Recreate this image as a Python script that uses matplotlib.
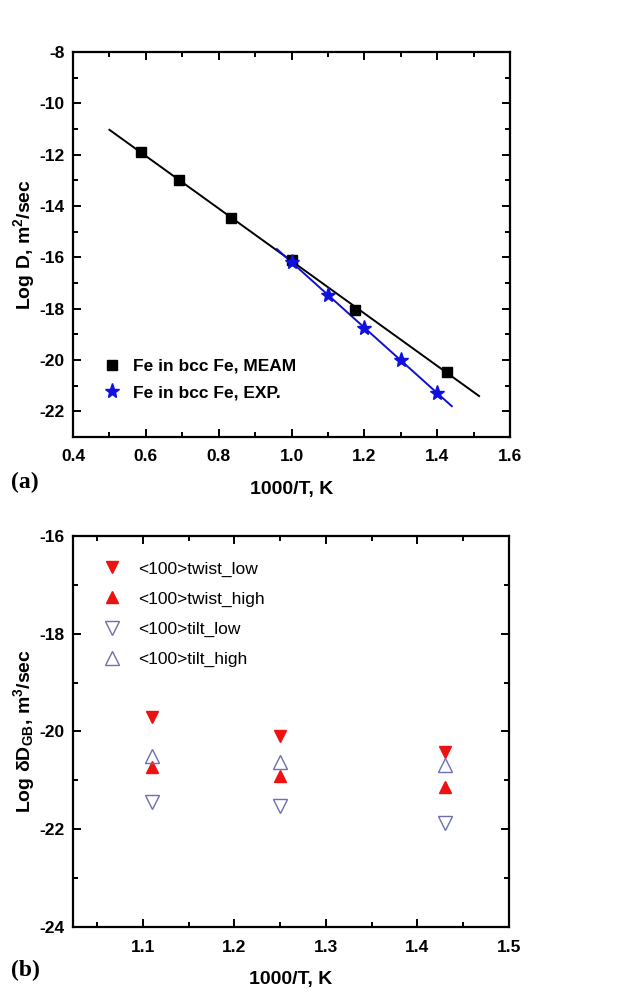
import numpy as np
import matplotlib
matplotlib.use("Agg")
import matplotlib.pyplot as plt
from matplotlib.ticker import MultipleLocator

plt.rcParams['font.family'] = ['Liberation Sans', 'DejaVu Sans']
plt.rcParams['axes.unicode_minus'] = False
plt.rcParams['mathtext.fontset'] = 'custom'
plt.rcParams['mathtext.rm'] = 'Liberation Sans:bold'
plt.rcParams['mathtext.bf'] = 'Liberation Sans:bold'
plt.rcParams['mathtext.default'] = 'bf'

# === Panel (a): lattice self-diffusion ===
meam_x = [0.587, 0.690, 0.833, 1.000, 1.175, 1.428]
meam_y = [-11.90, -12.97, -14.45, -16.10, -18.05, -20.45]
exp_x = [1.0, 1.1, 1.2, 1.3, 1.4]
exp_y = [-16.20, -17.45, -18.75, -20.00, -21.30]

# === Panel (b): grain boundary diffusion ===
gb_x = [1.11, 1.25, 1.43]
twist_low = [-19.70, -20.09, -20.42]
twist_high = [-20.73, -20.91, -21.14]
tilt_low = [-21.45, -21.52, -21.88]
tilt_high = [-20.51, -20.62, -20.68]

TILT_COLOR = '#6f6fb0'

fig = plt.figure(figsize=(6.31, 9.94), dpi=100)
ax1 = fig.add_axes([0.1157, 0.5604, 0.6926, 0.3873])
ax2 = fig.add_axes([0.1157, 0.0674, 0.6910, 0.3934])


def style_axes(ax):
    for sp in ax.spines.values():
        sp.set_linewidth(1.6)
    ax.tick_params(which='both', direction='in', top=True, right=True,
                   labelsize=12.5, width=1.4)
    ax.tick_params(axis='x', pad=9)
    ax.tick_params(axis='y', pad=6)
    ax.tick_params(which='major', length=6)
    ax.tick_params(which='minor', length=3.5)
    for lab in ax.get_xticklabels() + ax.get_yticklabels():
        lab.set_fontweight('bold')


# --- (a) ---
fit_m = np.polyfit(meam_x, meam_y, 1)
line_m = np.array([0.50, 1.515])
ax1.plot(line_m, np.polyval(fit_m, line_m), color='black', lw=1.4)
fit_e = np.polyfit(exp_x, exp_y, 1)
line_e = np.array([0.96, 1.44])
ax1.plot(line_e, np.polyval(fit_e, line_e), color='#1010d0', lw=1.4)
ax1.plot(meam_x, meam_y, 's', color='black', ms=7.5, label='Fe in bcc Fe, MEAM')
ax1.plot(exp_x, exp_y, '*', color='#1010e0', ms=11, label='Fe in bcc Fe, EXP.')

ax1.set_xlim(0.4, 1.6)
ax1.set_ylim(-23, -8)
ax1.xaxis.set_minor_locator(MultipleLocator(0.1))
ax1.yaxis.set_major_locator(MultipleLocator(2))
ax1.yaxis.set_minor_locator(MultipleLocator(1))
xt = np.arange(0.4, 1.61, 0.2)
ax1.set_xticks(xt)
ax1.set_xticklabels([f'{v:.1f}' for v in xt])
style_axes(ax1)
ax1.set_xlabel('1000/T, K', fontsize=14, fontweight='bold', labelpad=12)
ax1.set_ylabel(r'Log D, m$^2$/sec', fontsize=14, fontweight='bold', labelpad=2)
ax1.legend(loc='lower left', bbox_to_anchor=(0.03, 0.055), frameon=False,
           prop={'size': 12.5, 'weight': 'bold'}, handletextpad=0.6,
           labelspacing=0.65, handlelength=1.2)

# --- (b) ---
ax2.plot(gb_x, twist_low, 'v', color='#ee1111', ms=9, label='<100>twist_low')
ax2.plot(gb_x, twist_high, '^', color='#ee1111', ms=9, label='<100>twist_high')
ax2.plot(gb_x, tilt_low, 'v', mfc='none', mec=TILT_COLOR, mew=1.0, ms=10,
         label='<100>tilt_low')
ax2.plot(gb_x, tilt_high, '^', mfc='none', mec=TILT_COLOR, mew=1.0, ms=10,
         label='<100>tilt_high')

ax2.set_xlim(1.0237, 1.5)
ax2.set_ylim(-24, -16)
ax2.xaxis.set_major_locator(MultipleLocator(0.1))
ax2.xaxis.set_minor_locator(MultipleLocator(0.05))
ax2.yaxis.set_major_locator(MultipleLocator(2))
ax2.yaxis.set_minor_locator(MultipleLocator(1))
style_axes(ax2)
ax2.set_xlabel('1000/T, K', fontsize=14, fontweight='bold', labelpad=12)
ax2.set_ylabel(r'Log $\delta$D$_{GB}$, m$^3$/sec', fontsize=14,
               fontweight='bold', labelpad=2)
ax2.legend(loc='upper left', bbox_to_anchor=(0.03, 0.975), frameon=False,
           prop={'size': 12.5}, handletextpad=0.9, labelspacing=0.85,
           handlelength=1.2)

# panel tags
fig.text(0.018, 0.515, '(a)', family='Liberation Serif', fontweight='bold',
         fontsize=17, va='center')
fig.text(0.018, 0.024, '(b)', family='Liberation Serif', fontweight='bold',
         fontsize=17, va='center')

fig.savefig('out.png', dpi=100)
